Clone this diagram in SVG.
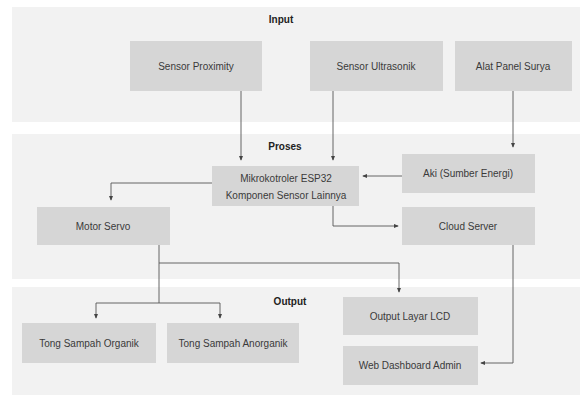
<svg xmlns="http://www.w3.org/2000/svg" width="580" height="397" viewBox="0 0 580 397">
<style>
.panel{fill:#f2f2f2}
.node rect{fill:#d6d6d6}
.node text{font-family:"Liberation Sans",Arial,sans-serif;font-size:10px;fill:#3a3a3a;text-anchor:middle;dominant-baseline:central}
.title{font-family:"Liberation Sans",Arial,sans-serif;font-size:10px;font-weight:bold;fill:#222;text-anchor:middle;dominant-baseline:central}
.conn path{fill:none;stroke:#555;stroke-width:0.9}
</style>
<defs>
<marker id="arr" viewBox="0 0 6 6" refX="5" refY="3" markerWidth="5" markerHeight="5" orient="auto" markerUnits="userSpaceOnUse">
<path d="M0,0.5 L6,3 L0,5.5 Z" fill="#444"/>
</marker>
</defs>
<rect width="580" height="397" fill="#ffffff"/>
<g id="panel-input"><rect class="panel" x="12" y="7" width="568" height="115"/><text class="title" x="281" y="19">Input</text></g>
<g id="panel-proses"><rect class="panel" x="12" y="134" width="568" height="145"/><text class="title" x="285" y="146">Proses</text></g>
<g id="panel-output"><rect class="panel" x="12" y="287" width="568" height="108"/><text class="title" x="290" y="301">Output</text></g>

<g class="conn" id="connectors">
<path d="M241,91 V160" marker-end="url(#arr)"/>
<path d="M333,91 V160" marker-end="url(#arr)"/>
<path d="M513,90 V147" marker-end="url(#arr)"/>
<path d="M402,176 H363" marker-end="url(#arr)"/>
<path d="M212,183 H111 V200" marker-end="url(#arr)"/>
<path d="M333,206 V226 H398" marker-end="url(#arr)"/>
<path d="M159,245 V303"/>
<path d="M159,263 H399 V292" marker-end="url(#arr)"/>
<path d="M96,303 H220 V318" marker-end="url(#arr)"/>
<path d="M96,303 V318" marker-end="url(#arr)"/>
<path d="M513,245 V363 H481" marker-end="url(#arr)"/>
</g>

<g class="node" id="sensor-proximity"><rect x="130" y="41" width="132" height="50"/><text x="196" y="66">Sensor Proximity</text></g>
<g class="node" id="sensor-ultrasonik"><rect x="310" y="41" width="133" height="50"/><text x="376" y="66">Sensor Ultrasonik</text></g>
<g class="node" id="alat-panel-surya"><rect x="455" y="41" width="117" height="50"/><text x="513" y="66">Alat Panel Surya</text></g>
<g class="node" id="mikrokontroler"><rect x="212" y="166" width="147" height="40"/><text x="286" y="178">Mikrokotroler ESP32</text><text x="286" y="195">Komponen Sensor Lainnya</text></g>
<g class="node" id="aki"><rect x="402" y="154" width="133" height="39"/><text x="468" y="173">Aki (Sumber Energi)</text></g>
<g class="node" id="motor-servo"><rect x="37" y="207" width="133" height="38"/><text x="103" y="226">Motor Servo</text></g>
<g class="node" id="cloud-server"><rect x="402" y="207" width="133" height="38"/><text x="468" y="226">Cloud Server</text></g>
<g class="node" id="output-lcd"><rect x="343" y="297" width="135" height="38"/><text x="410" y="316">Output Layar LCD</text></g>
<g class="node" id="web-dashboard"><rect x="343" y="346" width="135" height="39"/><text x="410" y="365">Web Dashboard Admin</text></g>
<g class="node" id="tong-organik"><rect x="22" y="323" width="134" height="40"/><text x="89" y="343">Tong Sampah Organik</text></g>
<g class="node" id="tong-anorganik"><rect x="167" y="323" width="132" height="40"/><text x="233" y="343">Tong Sampah Anorganik</text></g>
</svg>
